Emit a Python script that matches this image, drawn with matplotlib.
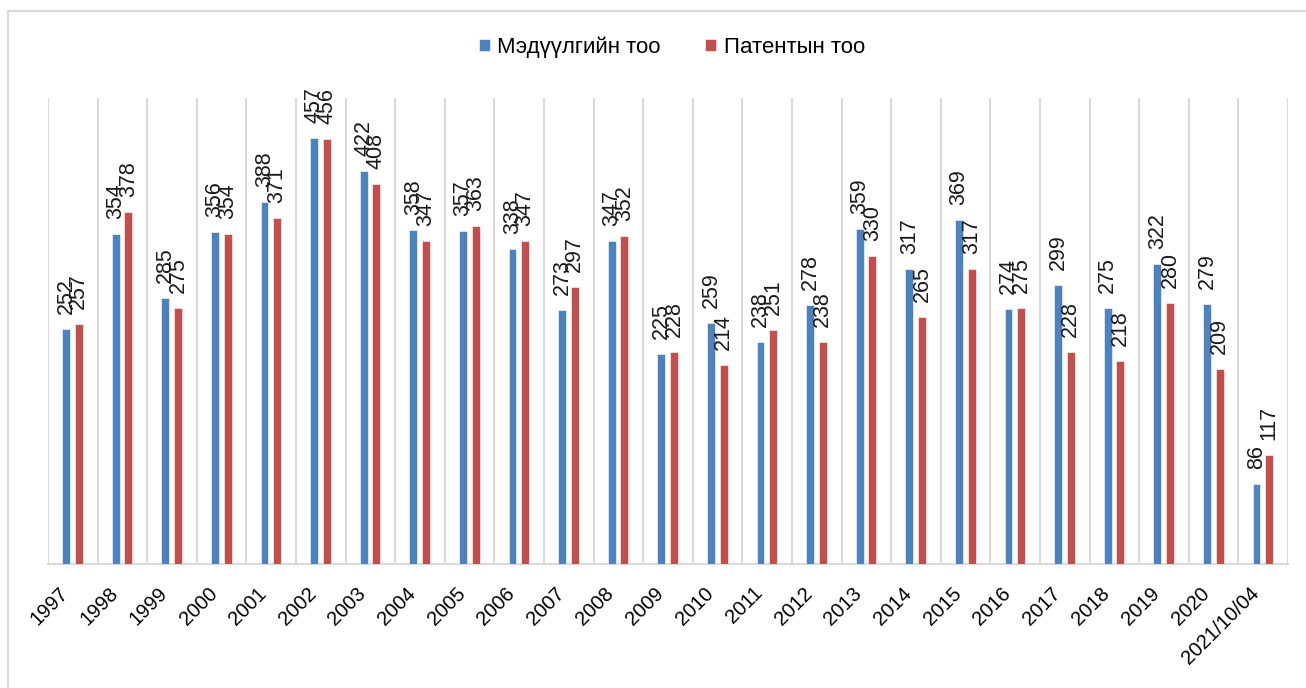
import numpy as np
import matplotlib
matplotlib.use('Agg')
import matplotlib.pyplot as plt
import matplotlib.transforms as mtransforms
from matplotlib.lines import Line2D

plt.rcParams['font.family'] = ['Liberation Sans', 'DejaVu Sans']

years = ['1997', '1998', '1999', '2000', '2001', '2002', '2003', '2004', '2005',
         '2006', '2007', '2008', '2009', '2010', '2011', '2012', '2013', '2014',
         '2015', '2016', '2017', '2018', '2019', '2020', '2021/10/04']
applications = [252, 354, 285, 356, 388, 457, 422, 358, 357, 338, 273, 347, 225,
                259, 238, 278, 359, 317, 369, 274, 299, 275, 322, 279, 86]
patents = [257, 378, 275, 354, 371, 456, 408, 347, 363, 347, 297, 352, 228,
           214, 251, 238, 330, 265, 317, 275, 228, 218, 280, 209, 117]
series_names = ['Мэдүүлгийн тоо', 'Патентын тоо']
colors = ['#4F81BD', '#C0504D']

fig = plt.figure(figsize=(13.06, 6.88), dpi=100)
ax = fig.add_axes([48 / 1306, 1 - 564 / 688, 1240 / 1306, 466 / 688])

x = np.arange(len(years))
bw = 0.16
offsets = [-0.135, 0.12]

for vals, name, c, off in zip([applications, patents], series_names, colors, offsets):
    bars = ax.bar(x + off, vals, width=bw, color=c, label=name, edgecolor='white',
                  linewidth=0.4, zorder=3)
    for b, v in zip(bars, vals):
        ax.annotate(str(v), (b.get_x() + b.get_width() / 2, b.get_height()),
                    xytext=(0, 15), textcoords='offset pixels', rotation=90,
                    ha='center', va='bottom', fontsize=15.5, color='#1a1a1a')

ax.set_xlim(-0.5, len(years) - 0.5)
ax.set_ylim(0, 500)
ax.set_xticks(x)
ax.set_xticks(np.arange(len(years) + 1) - 0.5, minor=True)
ax.tick_params(axis='x', which='both', length=0, pad=14)
ax.set_xticklabels(years, rotation=45, ha='right', rotation_mode='anchor', fontsize=14.5)
shift = mtransforms.ScaledTranslation(-14 / 100, 0, fig.dpi_scale_trans)
for lbl in ax.get_xticklabels():
    lbl.set_transform(lbl.get_transform() + shift)
ax.set_yticks([])
ax.grid(axis='x', which='minor', color='#D9D9D9', linewidth=1.5, zorder=0)
for s in ['top', 'right', 'left']:
    ax.spines[s].set_visible(False)
ax.spines['bottom'].set_color('#D9D9D9')
ax.spines['bottom'].set_linewidth(1.5)

fig.legend(loc='center', bbox_to_anchor=(672 / 1306, 1 - 47 / 688), ncol=2, frameon=False,
           fontsize=16, handlelength=0.5, handleheight=0.5, handletextpad=0.35,
           columnspacing=2.0)

# chart frame
fig.add_artist(Line2D([8 / 1306, 8 / 1306], [0, 1 - 11 / 688], transform=fig.transFigure,
                      color='#D9D9D9', linewidth=1.5))
fig.add_artist(Line2D([8 / 1306, 1], [1 - 11 / 688, 1 - 11 / 688], transform=fig.transFigure,
                      color='#D9D9D9', linewidth=1.5))

fig.savefig('out.png', dpi=100)
